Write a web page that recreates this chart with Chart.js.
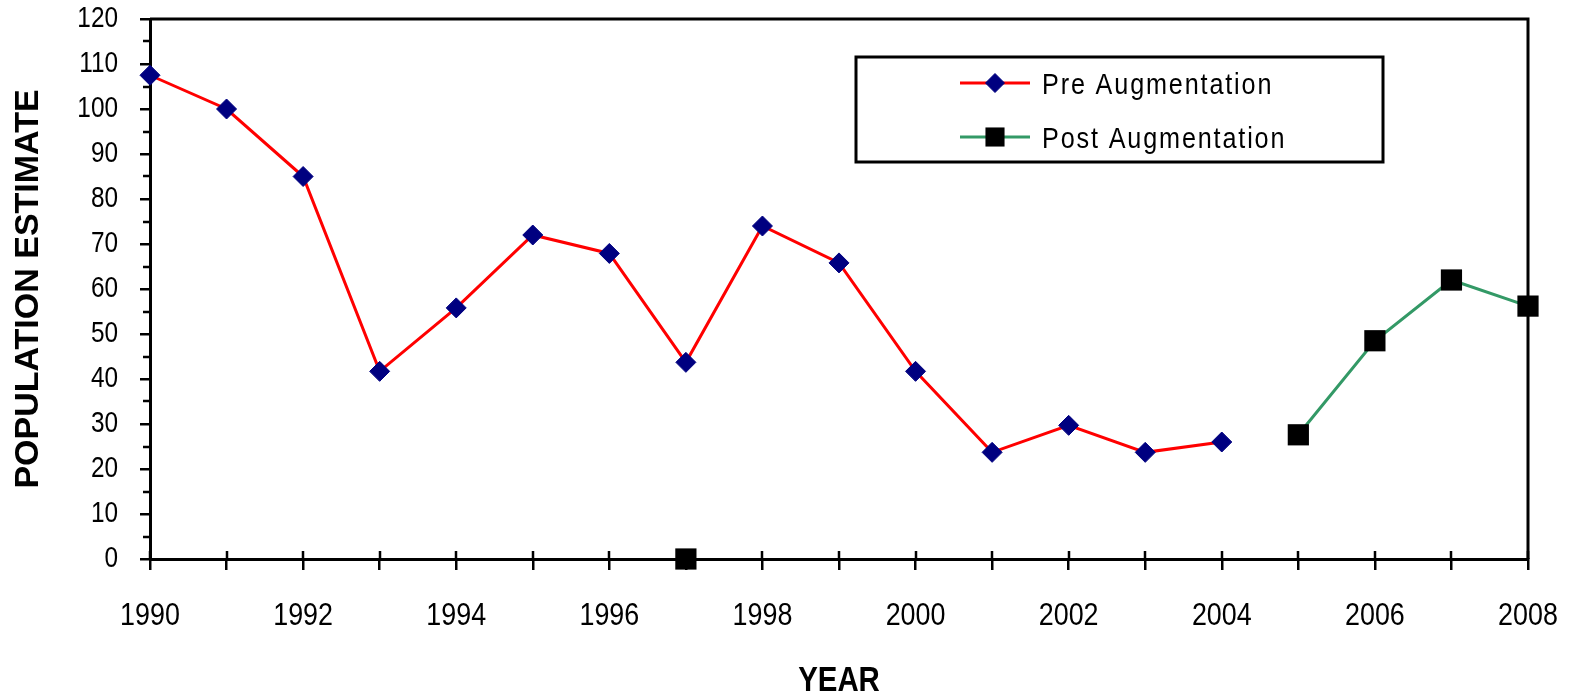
<!DOCTYPE html>
<html>
<head>
<meta charset="utf-8">
<script src="https://cdn.jsdelivr.net/npm/chart.js@4/dist/chart.umd.min.js"></script>
<style>
  html, body { margin: 0; padding: 0; background: #ffffff; }
  #wrap { width: 1576px; height: 697px; }
</style>
</head>
<body>
<div id="wrap"><canvas id="c" width="1576" height="697"></canvas></div>
<script>
// ---- data ----
const years = [1990, 1991, 1992, 1993, 1994, 1995, 1996, 1997, 1998, 1999,
               2000, 2001, 2002, 2003, 2004, 2005, 2006, 2007, 2008];
const preAugmentation = [107.5, 100, 85, 41.7, 55.8, 72, 67.9, 43.7, 74, 65.8,
                         41.7, 23.7, 29.7, 23.7, 26, null, null, null, null];
const postAugmentation = [null, null, null, null, null, null, null, 0, null, null,
                          null, null, null, null, null, 27.6, 48.5, 62, 56.2];
const seriesNames = ['Pre Augmentation', 'Post Augmentation'];
const yTicksMax = 120;
const yTickStep = 10;
const xTitle = 'YEAR';
const yTitle = 'POPULATION ESTIMATE';

const fam = '"Liberation Sans", Arial, sans-serif';
Chart.defaults.font.family = fam;
Chart.defaults.color = '#000000';

const RED = '#FF0000', NAVY = '#000080', GREEN = '#339966', BLACK = '#000000';

// The reference renders its Arial-like text horizontally condensed:
// draw horizontal text with a slight horizontal squeeze around its anchor.
const SQUEEZE = 0.84;
const canvas = document.getElementById('c');
const ctx0 = canvas.getContext('2d');
const nativeFill = CanvasRenderingContext2D.prototype.fillText;
ctx0.fillText = function (t, x, y, mw) {
  const m = this.getTransform();
  if (Math.abs(m.b) > 1e-6 || Math.abs(m.c) > 1e-6) {
    return mw === undefined ? nativeFill.call(this, t, x, y) : nativeFill.call(this, t, x, y, mw);
  }
  this.save();
  this.translate(x, y);
  this.scale(SQUEEZE, 1);
  if (mw === undefined) nativeFill.call(this, t, 0, 0);
  else nativeFill.call(this, t, 0, 0, mw / SQUEEZE);
  this.restore();
};

// ---- extra axis decorations (drawn from the library scales) ----
const axisExtras = {
  id: 'axisExtras',
  beforeDatasetsDraw(chart) {
    const { ctx, chartArea: a, scales: { x, y } } = chart;
    ctx.save();
    ctx.strokeStyle = BLACK;
    ctx.lineCap = 'butt';
    // top and right frame
    ctx.lineWidth = 3;
    ctx.beginPath();
    ctx.moveTo(a.left, a.top);
    ctx.lineTo(a.right, a.top);
    ctx.lineTo(a.right, a.bottom);
    ctx.stroke();
    // minor y ticks
    ctx.lineWidth = 2.5;
    ctx.beginPath();
    for (let v = yTickStep / 2; v < yTicksMax; v += yTickStep) {
      const py = Math.round(y.getPixelForValue(v));
      ctx.moveTo(a.left - 7, py);
      ctx.lineTo(a.left, py);
    }
    ctx.stroke();
    // inner part of the x ticks (ticks cross the axis)
    ctx.beginPath();
    for (let i = 0; i < x.ticks.length; i++) {
      const px = Math.round(x.getPixelForTick(i));
      ctx.moveTo(px, a.bottom - 8);
      ctx.lineTo(px, a.bottom);
    }
    ctx.stroke();
    ctx.restore();
  }
};

// ---- legend box (inside plot) ----
const boxLegend = {
  id: 'boxLegend',
  afterDraw(chart) {
    const ctx = chart.ctx;
    const bx = 856, by = 57, bw = 527, bh = 105;
    ctx.save();
    ctx.fillStyle = '#ffffff';
    ctx.fillRect(bx, by, bw, bh);
    ctx.strokeStyle = BLACK;
    ctx.lineWidth = 3;
    ctx.strokeRect(bx, by, bw, bh);
    const rows = [83, 137];
    chart.data.datasets.forEach((ds, i) => {
      const yy = rows[i];
      ctx.strokeStyle = ds.borderColor;
      ctx.lineWidth = ds.borderWidth;
      ctx.beginPath();
      ctx.moveTo(960, yy);
      ctx.lineTo(1030, yy);
      ctx.stroke();
      ctx.fillStyle = ds.pointBackgroundColor;
      ctx.strokeStyle = ds.pointBorderColor;
      ctx.lineWidth = 1;
      Chart.helpers.drawPoint(ctx, {
        pointStyle: ds.pointStyle,
        radius: ds.pointStyle === 'rect' ? 13.5 : 9.5,
        borderWidth: ds.pointStyle === 'rect' ? 0 : 1,
        rotation: 0
      }, 995, yy);
      ctx.fillStyle = BLACK;
      ctx.font = '30px ' + fam;
      if ('letterSpacing' in ctx) ctx.letterSpacing = '2.2px';
      ctx.textBaseline = 'middle';
      ctx.textAlign = 'left';
      ctx.fillText(ds.label, 1042, yy + 3);
    });
    ctx.restore();
  }
};

new Chart(canvas, {
  type: 'line',
  data: {
    labels: years,
    datasets: [
      {
        label: seriesNames[0],
        data: preAugmentation,
        borderColor: RED,
        borderWidth: 3,
        pointStyle: 'rectRot',
        pointRadius: 10,
        pointHoverRadius: 10,
        pointBackgroundColor: NAVY,
        pointBorderColor: NAVY,
        pointBorderWidth: 1,
        spanGaps: false,
        tension: 0,
        clip: false
      },
      {
        label: seriesNames[1],
        data: postAugmentation,
        borderColor: GREEN,
        borderWidth: 3,
        pointStyle: 'rect',
        pointRadius: 15,
        pointHoverRadius: 15,
        pointBackgroundColor: BLACK,
        pointBorderColor: BLACK,
        pointBorderWidth: 0,
        spanGaps: false,
        tension: 0,
        clip: false
      }
    ]
  },
  options: {
    responsive: false,
    animation: false,
    devicePixelRatio: 1,
    layout: { padding: { left: 0, top: 19, right: 48, bottom: 0 } },
    plugins: {
      legend: { display: false },
      tooltip: { enabled: false },
      title: { display: false }
    },
    scales: {
      x: {
        type: 'category',
        offset: false,
        grid: {
          display: true,
          drawOnChartArea: false,
          drawTicks: true,
          tickLength: 11,
          color: BLACK,
          lineWidth: 2.5
        },
        border: { display: true, color: BLACK, width: 3 },
        ticks: {
          autoSkip: false,
          maxRotation: 0,
          minRotation: 0,
          padding: 27,
          color: BLACK,
          font: { size: 32 },
          callback: function (val, idx) {
            const yr = years[idx];
            return yr % 2 === 0 ? String(yr) : '';
          }
        },
        title: {
          display: true,
          text: xTitle,
          color: BLACK,
          font: { size: 35, weight: 'bold', lineHeight: 0.89 },
          padding: { top: 0, bottom: 0 }
        },
        afterFit(scale) {
          scale.height = 138;
          scale.paddingLeft = 0;
          scale.paddingRight = 0;
        }
      },
      y: {
        type: 'linear',
        min: 0,
        max: yTicksMax,
        grid: {
          display: true,
          drawOnChartArea: false,
          drawTicks: true,
          tickLength: 10,
          color: BLACK,
          lineWidth: 2.5
        },
        border: { display: true, color: BLACK, width: 3 },
        ticks: {
          stepSize: yTickStep,
          padding: 22,
          color: BLACK,
          font: { size: 29 }
        },
        title: {
          display: true,
          text: yTitle,
          color: BLACK,
          font: { size: 34, weight: 'bold', lineHeight: 1 },
          padding: { top: 12, bottom: 0 }
        },
        afterFit(scale) {
          scale.width = 150;
          scale.paddingTop = 0;
          scale.paddingBottom = 0;
        }
      }
    }
  },
  plugins: [axisExtras, boxLegend]
});
</script>
</body>
</html>
